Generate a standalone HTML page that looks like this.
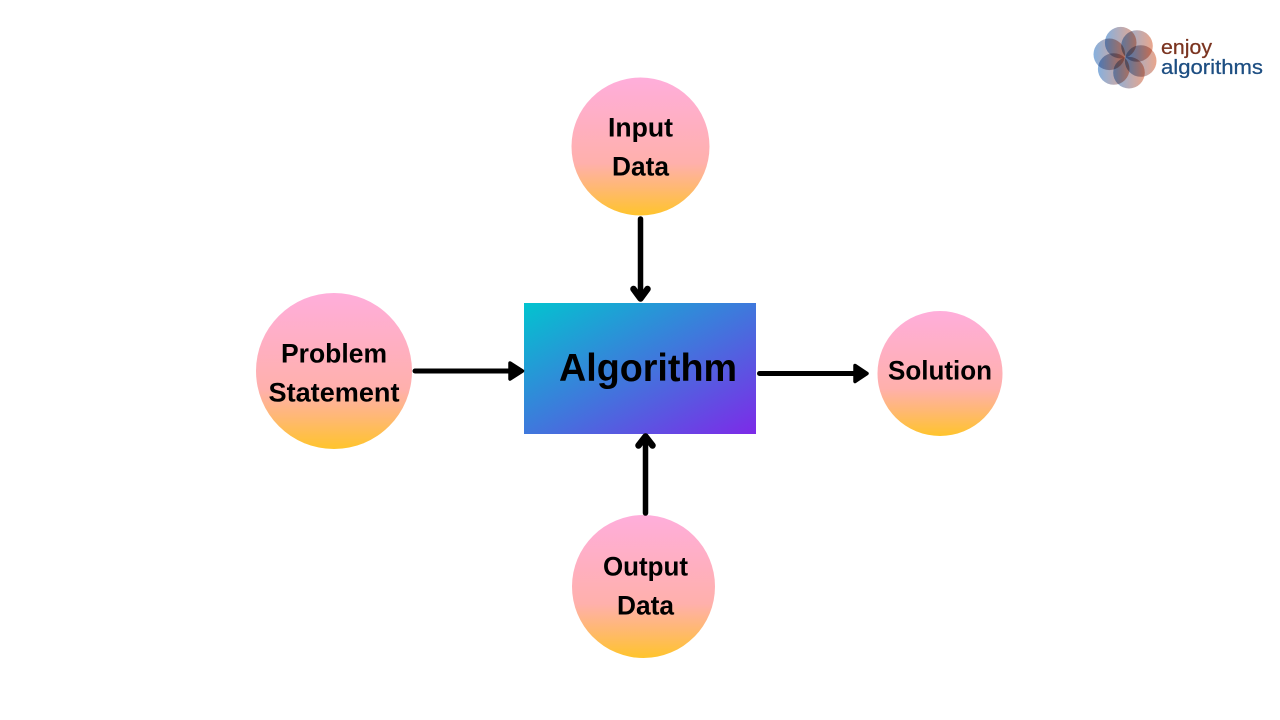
<!DOCTYPE html>
<html>
<head>
<meta charset="utf-8">
<style>
html,body{margin:0;padding:0;background:#fff;width:1280px;height:720px;overflow:hidden}
svg{display:block}
text{font-family:"Liberation Sans",sans-serif;font-weight:bold;fill:#000;text-anchor:middle}
.pt{mix-blend-mode:multiply}
</style>
</head>
<body>
<svg width="1280" height="720" viewBox="0 0 1280 720" xmlns="http://www.w3.org/2000/svg">
<defs>
<linearGradient id="c" x1="0" y1="0" x2="0" y2="1">
<stop offset="0" stop-color="#ffaedb"/>
<stop offset="0.62" stop-color="#ffb0ac"/>
<stop offset="0.8" stop-color="#ffb872"/>
<stop offset="1" stop-color="#ffc42c"/>
</linearGradient>
<linearGradient id="r" x1="0" y1="0" x2="1" y2="1">
<stop offset="0" stop-color="#02c4cf"/>
<stop offset="0.5" stop-color="#3f78dc"/>
<stop offset="1" stop-color="#7d2ae8"/>
</linearGradient>
<linearGradient id="p" x1="0" y1="0" x2="1" y2="0">
<stop offset="0" stop-color="#86b0de"/>
<stop offset="1" stop-color="#eaa68c"/>
</linearGradient>
</defs>

<circle cx="640.5" cy="146.5" r="69" fill="url(#c)"/>
<circle cx="334" cy="371" r="78" fill="url(#c)"/>
<circle cx="940" cy="373.5" r="62.5" fill="url(#c)"/>
<circle cx="643.5" cy="586.5" r="71.5" fill="url(#c)"/>
<rect x="524" y="303" width="232" height="131" fill="url(#r)"/>

<g fill="none" stroke="#000" stroke-linecap="round" stroke-linejoin="round">
<path d="M640.5 219V297" stroke-width="5.5"/>
<path d="M633.500 289L640.500 298.500L647.500 289" stroke-width="6.500"/>
<path d="M415 371H515" stroke-width="5"/>
<polygon points="510,363 522.500,371 510,379" fill="#000" stroke-width="3.500"/>
<path d="M759.500 373.500H860" stroke-width="5"/>
<polygon points="855,365.500 867,373.500 855,381.500" fill="#000" stroke-width="3.500"/>
<path d="M645.500 513V440" stroke-width="5.500"/>
<path d="M638.500 445.500L645.500 436.500L652.500 445.500" stroke-width="6.500"/>
</g>

<text x="640.500" y="136.700" font-size="27" textLength="65" lengthAdjust="spacingAndGlyphs">Input</text>
<text x="640.500" y="175.700" font-size="27" textLength="57" lengthAdjust="spacingAndGlyphs">Data</text>
<text x="334" y="362.700" font-size="27" textLength="106" lengthAdjust="spacingAndGlyphs">Problem</text>
<text x="334" y="401.700" font-size="27" textLength="131" lengthAdjust="spacingAndGlyphs">Statement</text>
<text x="940" y="379.700" font-size="27" textLength="104" lengthAdjust="spacingAndGlyphs">Solution</text>
<text x="645.500" y="575.700" font-size="27" textLength="85" lengthAdjust="spacingAndGlyphs">Output</text>
<text x="645.500" y="614.700" font-size="27" textLength="57" lengthAdjust="spacingAndGlyphs">Data</text>
<text x="648" y="381" font-size="39" textLength="178" lengthAdjust="spacingAndGlyphs">Algorithm</text>

<g fill="url(#p)">
<circle class="pt" cx="1120.700" cy="42.700" r="15.800"/>
<circle class="pt" cx="1137" cy="46" r="15.800"/>
<circle class="pt" cx="1140.700" cy="61" r="15.800"/>
<circle class="pt" cx="1129" cy="72.700" r="15.800"/>
<circle class="pt" cx="1113.700" cy="69" r="15.800"/>
<circle class="pt" cx="1109.300" cy="54.300" r="15.800"/>
</g>
<text x="1161" y="54" font-size="20" style="text-anchor:start;font-weight:normal;fill:#7b3420;stroke:#7b3420;stroke-width:.25" textLength="51" lengthAdjust="spacingAndGlyphs">enjoy</text>
<text x="1161" y="74" font-size="20" style="text-anchor:start;font-weight:normal;fill:#1d4e82;stroke:#1d4e82;stroke-width:.25" textLength="102" lengthAdjust="spacingAndGlyphs">algorithms</text>
</svg>
</body>
</html>
